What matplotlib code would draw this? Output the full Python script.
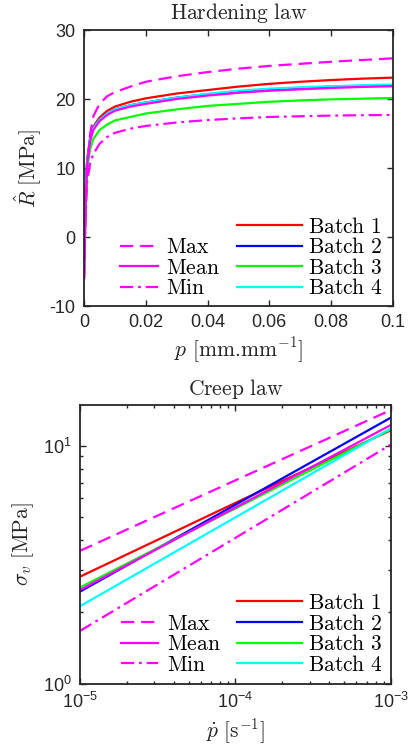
import numpy as np;
import matplotlib;
matplotlib.use('Agg');
import matplotlib.pyplot as plt;
from matplotlib.ticker import FixedLocator, LogLocator, FuncFormatter, NullFormatter;

# Hardening law: plastic strain p and hardening stress R (MPa)
p_strain = [0, 0.0005, 0.001, 0.002, 0.003, 0.005, 0.0075, 0.01, 0.015, 0.02,
            0.03, 0.04, 0.05, 0.06, 0.07, 0.08, 0.09, 0.1];
R_batch1 = [-4, 6, 11, 14.5, 16.0, 17.3, 18.3, 18.9, 19.6, 20.1,
            20.8, 21.3, 21.8, 22.2, 22.5, 22.75, 22.95, 23.1];
R_batch2 = [-4, 6, 11, 14.3, 15.8, 17.0, 17.9, 18.5, 19.1, 19.5,
            20.2, 20.7, 21.1, 21.4, 21.6, 21.8, 21.9, 22.0];
R_batch3 = [-4, 5, 10, 12.8, 14.2, 15.5, 16.3, 16.9, 17.4, 17.9,
            18.5, 19.0, 19.3, 19.6, 19.8, 19.95, 20.05, 20.15];
R_batch4 = [-4, 6, 11, 14.3, 15.8, 17.0, 17.9, 18.5, 19.1, 19.5,
            20.2, 20.75, 21.2, 21.5, 21.7, 21.85, 22.0, 22.1];
R_max = [-6, 4, 10, 15.0, 17.5, 19.3, 20.4, 21.0, 21.8, 22.5,
         23.3, 23.9, 24.4, 24.8, 25.1, 25.4, 25.65, 25.9];
R_mean = [-6, 5, 10.5, 14.0, 15.5, 16.8, 17.7, 18.3, 18.9, 19.3,
          20.0, 20.5, 20.9, 21.2, 21.4, 21.6, 21.75, 21.85];
R_min = [-6, 3, 8, 10.8, 12.0, 13.5, 14.5, 15.1, 15.7, 16.1,
         16.6, 16.95, 17.2, 17.4, 17.5, 17.6, 17.65, 17.7];

# Creep law: strain rate (1/s) and viscous stress (MPa)
p_rate = [1e-5, 1e-4, 1e-3];
S_batch1 = [2.82, 5.75, 11.6];
S_batch2 = [2.44, 5.65, 13.1];
S_batch3 = [2.54, 5.45, 11.7];
S_batch4 = [2.12, 5.0, 11.8];
S_max = [3.62, 7.15, 14.1];
S_mean = [2.48, 5.5, 12.2];
S_min = [1.67, 4.1, 10.1];

batch_names = ['Batch 1', 'Batch 2', 'Batch 3', 'Batch 4'];
stat_names = ['Max', 'Mean', 'Min'];
x_ticks_hard = [0, 0.02, 0.04, 0.06, 0.08, 0.1];
x_ticklabels_hard = ['0', '0.02', '0.04', '0.06', '0.08', '0.1'];
y_ticks_hard = [-10, 0, 10, 20, 30];
y_ticklabels_hard = ['-10', '0', '10', '20', '30'];

batch_colors = ['#ff0000', '#0000ff', '#00ff00', '#00ffff'];
stat_color = '#ff00ff';
stat_dashes = [(9.5, 5), (), (9.5, 3.5, 2, 3.5)];
INK = '#262626';
LABEL_SIZE = 15.5;

plt.rcParams['mathtext.fontset'] = 'cm';
plt.rcParams['font.family'] = ['Liberation Sans', 'DejaVu Sans'];
plt.rcParams['lines.scale_dashes'] = False;


def tex(s: str) -> str:
    """Wrap plain text as upright mathtext so it is set in Computer Modern."""
    return r'$\mathrm{' + s.replace(' ', r'\ ') + '}$';


def draw_curves(ax, x, batches, stats):
    """Draw the four batch curves and the max/mean/min envelope."""
    batch_lines = [];
    for y, c, name in zip(batches, batch_colors, batch_names):
        line, = ax.plot(x, y, color=c, lw=1.6, label=tex(name));
        batch_lines.append(line);
    stat_lines = [];
    for y, d, name in zip(stats, stat_dashes, stat_names):
        line, = ax.plot(x, y, color=stat_color, lw=1.6, label=tex(name));
        if d:
            line.set_dashes(d);
        stat_lines.append(line);
    return batch_lines, stat_lines;


def add_legends(ax, batch_lines, stat_lines, xb, xs, yb) -> None:
    """Two frameless legends at the bottom of the axes."""
    common = dict(frameon=False, fontsize=LABEL_SIZE, loc='lower left', borderpad=0,
                  borderaxespad=0, labelspacing=-0.02);
    leg1 = ax.legend(batch_lines, [l.get_label() for l in batch_lines],
                     bbox_to_anchor=(xb, yb), handlelength=3.0, handletextpad=0.3, **common);
    ax.add_artist(leg1);
    ax.legend(stat_lines, [l.get_label() for l in stat_lines],
              bbox_to_anchor=(xs, yb), handlelength=1.75, handletextpad=0.4, **common);


def style_axes(ax) -> None:
    for s in ax.spines.values():
        s.set_linewidth(1.3);
        s.set_color(INK);
    ax.tick_params(which='both', direction='in', top=True, right=True,
                   colors=INK, labelsize=13, width=1.0, pad=6);
    ax.tick_params(which='major', length=4.5);
    ax.tick_params(which='minor', length=2.5);


def main():
    fig = plt.figure(figsize=(4.08, 7.56), dpi=100);

    # Hardening law
    ax1 = fig.add_axes([0.206, 0.5952, 0.757, 0.3651]);
    bl, sl = draw_curves(ax1, p_strain, [R_batch1, R_batch2, R_batch3, R_batch4],
                         [R_max, R_mean, R_min]);
    ax1.set_xlim(0, 0.1);
    ax1.set_ylim(-10, 30);
    ax1.xaxis.set_major_locator(FixedLocator(x_ticks_hard));
    ax1.set_xticklabels(x_ticklabels_hard);
    ax1.yaxis.set_major_locator(FixedLocator(y_ticks_hard));
    ax1.set_yticklabels(y_ticklabels_hard);
    style_axes(ax1);
    ax1.set_title(tex('Hardening law'), fontsize=LABEL_SIZE, pad=8, color=INK);
    ax1.set_xlabel(r'$p$ [mm.mm$^{-1}$]', fontsize=LABEL_SIZE, color=INK, labelpad=3,
                   family='cmr10');
    ax1.set_ylabel(r'$\hat{R}\ \mathrm{[MPa]}$', fontsize=LABEL_SIZE, color=INK, labelpad=5);
    add_legends(ax1, bl, sl, 0.495, 0.1165, 0.024);

    # Creep law
    ax2 = fig.add_axes([0.196, 0.0952, 0.762, 0.3691]);
    bl, sl = draw_curves(ax2, p_rate, [S_batch1, S_batch2, S_batch3, S_batch4],
                         [S_max, S_mean, S_min]);
    ax2.set_xscale('log');
    ax2.set_yscale('log');
    ax2.set_xlim(1e-5, 1e-3);
    ax2.set_ylim(1, 14.8);
    fmt = FuncFormatter(lambda v, pos: r'$\mathregular{10^{%d}}$' % round(np.log10(v)));
    for axis in (ax2.xaxis, ax2.yaxis):
        axis.set_major_locator(LogLocator(base=10));
        axis.set_minor_locator(LogLocator(base=10, subs=np.arange(2, 10)));
        axis.set_major_formatter(fmt);
        axis.set_minor_formatter(NullFormatter());
    style_axes(ax2);
    ax2.set_title(tex('Creep law'), fontsize=LABEL_SIZE, pad=7, color=INK);
    ax2.set_xlabel(r'$\dot{p}\ \mathrm{[s^{-1}]}$', fontsize=LABEL_SIZE, color=INK, labelpad=3);
    ax2.set_ylabel(r'$\sigma_v\ \mathrm{[MPa]}$', fontsize=LABEL_SIZE, color=INK, labelpad=5);
    add_legends(ax2, bl, sl, 0.505, 0.131, 0.03);

    fig.savefig('out.png', dpi=100);
    plt.close(fig);


if __name__ == "__main__":
    main();
